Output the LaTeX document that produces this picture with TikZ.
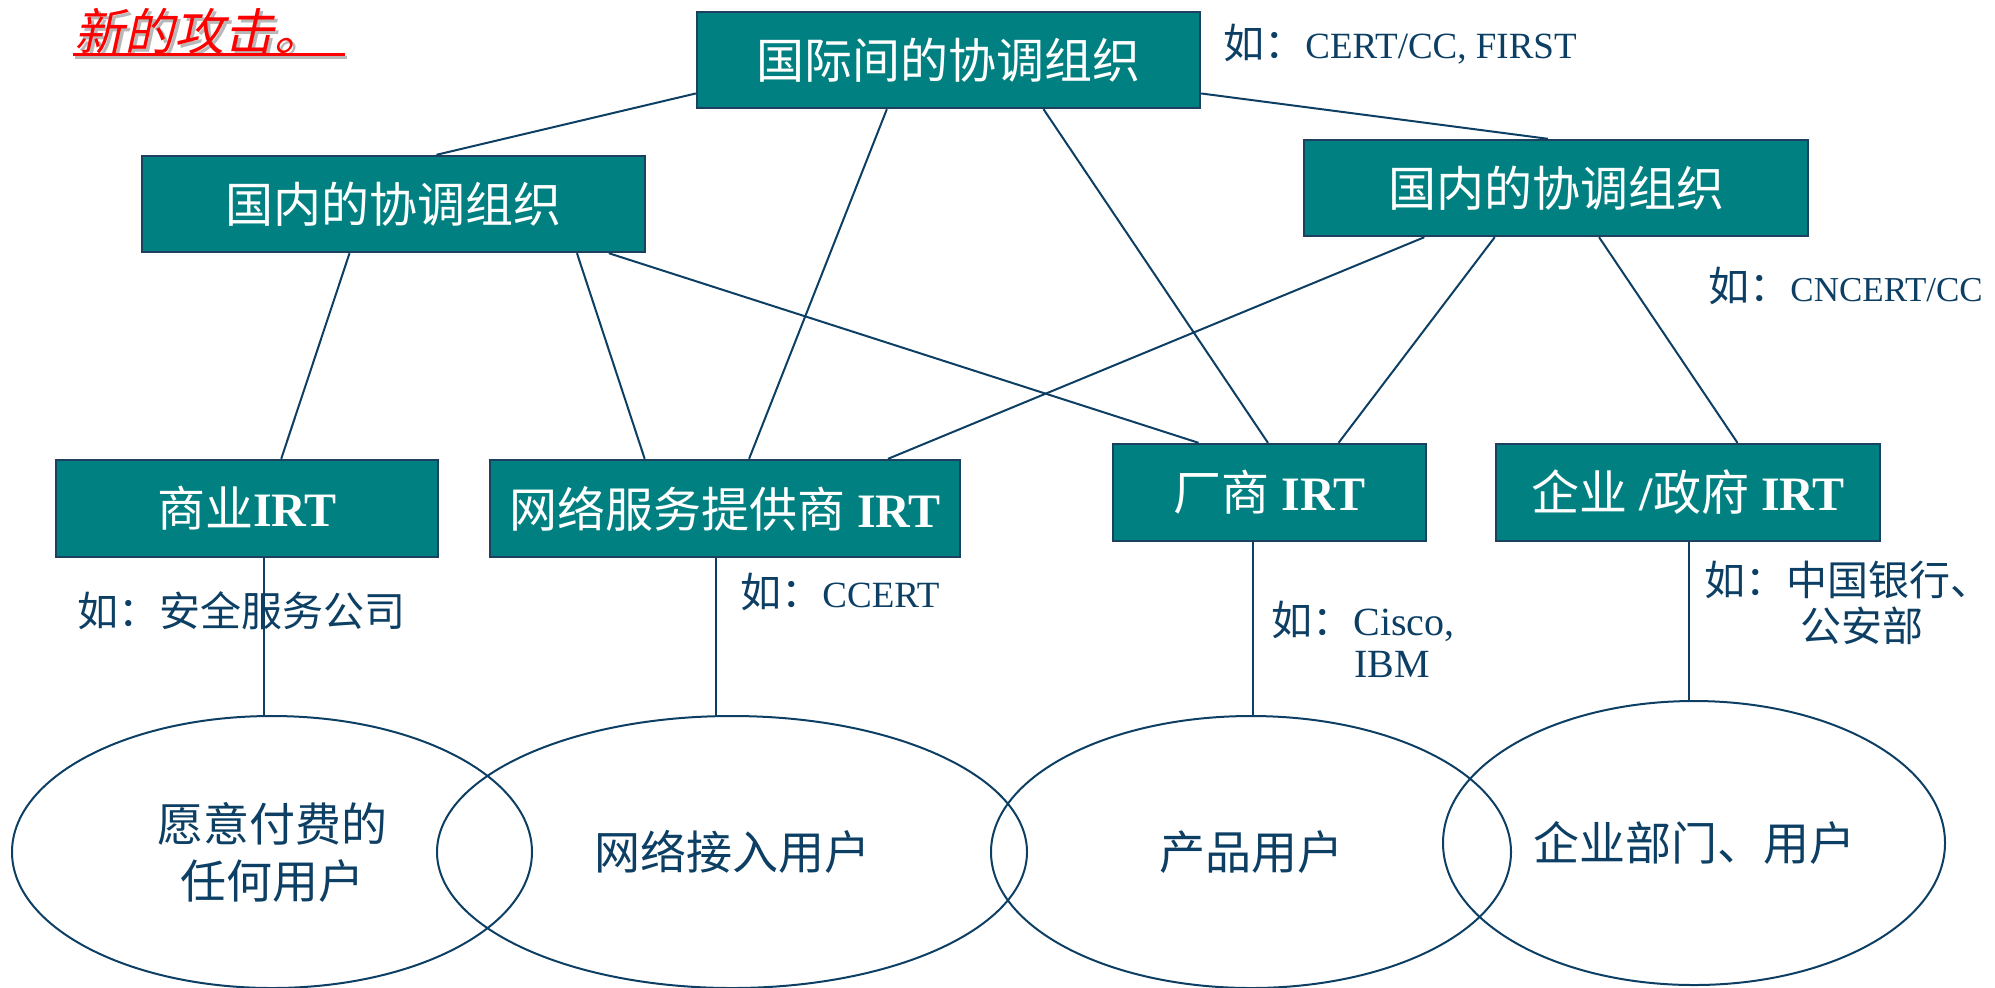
\documentclass[tikz,border=0pt]{standalone}
\usepackage{fontspec}
\setmainfont{Liberation Serif}
\newfontfamily\cjk{Noto Sans CJK SC}
\newfontfamily\cjkit[FakeSlant=0.22]{Noto Sans CJK SC}
\usetikzlibrary{shapes.geometric,calc}
\definecolor{tealfill}{HTML}{008080}
\definecolor{navy}{HTML}{0C3F63}
\definecolor{boxline}{HTML}{1B4060}
\definecolor{shadowgray}{HTML}{B8B8B8}
\newcommand\cj[1]{{\fontsize{20.5}{24}\selectfont\cjk #1}}
\begin{document}
\begin{tikzpicture}[x=0.5pt,y=-0.5pt,
  box/.style={draw=boxline, line width=1.2pt, fill=tealfill, text=white, inner sep=0pt, font=\fontsize{24}{28}\selectfont},
  lab/.style={text=navy, inner sep=0pt, anchor=west, font=\fontsize{18.5}{22}\selectfont},
  ell/.style={draw=navy, line width=1pt, ellipse, inner sep=0pt, text=navy, align=center, font=\fontsize{23}{28.5}\selectfont\cjk},
  conn/.style={draw=navy, line width=1pt},
  ttl/.style={inner sep=0pt, anchor=west, font=\fontsize{25}{29}\selectfont\cjkit}]
\useasboundingbox (0,0) rectangle (1995,987);

% title
\node[ttl, text=shadowgray] (tsh) at (77,34) {新的攻击。};
\node[ttl, text=red] (title) at (74,31) {新的攻击。};
\draw[shadowgray, line width=1.6pt] ([shift={(1,3)}]title.south west) -- ([shift={(22,3)}]title.south east);
\draw[red, line width=1.6pt] ([shift={(-1,0)}]title.south west) -- ([shift={(20,0)}]title.south east);

% boxes
\node[box, minimum width=251.5pt, minimum height=48pt] (intl) at (948.5,60) {\cjk 国际间的协调组织};
\node[box, minimum width=251.5pt, minimum height=48pt] (dl) at (393.5,204) {\cjk 国内的协调组织};
\node[box, minimum width=252pt, minimum height=48pt] (dr) at (1556,188) {\cjk 国内的协调组织};
\node[box, minimum width=191pt, minimum height=48.5pt] (biz) at (247,508.5) {{\cjk 商业}\textbf{IRT}};
\node[box, minimum width=235pt, minimum height=48.5pt] (isp) at (725,508.5) {{\cjk 网络服务提供商} \textbf{IRT}};
\node[box, minimum width=156.5pt, minimum height=48.5pt] (ven) at (1269.5,492.5) {{\cjk 厂商} \textbf{IRT}};
\node[box, minimum width=192pt, minimum height=48.5pt] (gov) at (1688,492.5) {{\cjk 企业} \textbf{/}{\cjk 政府} \textbf{IRT}};

% ellipses
\node[ell, minimum width=260pt, minimum height=136pt] (e1) at (272,852) {愿意付费的\\任何用户};
\node[ell, minimum width=295pt, minimum height=136pt] (e2) at (732,852) {网络接入用户};
\node[ell, minimum width=260pt, minimum height=136pt] (e3) at (1251,852) {产品用户};
\node[ell, minimum width=251pt, minimum height=142pt] (e4) at (1694,843) {企业部门、用户};

% labels
\node[lab] (l1) at (1223,44) {\cj{如：}CERT/CC, FIRST};
\node[lab, font=\fontsize{17.5}{21}\selectfont] (l2) at (1708,286) {\cj{如：}CNCERT/CC};
\node[lab] (l3) at (77,611) {\cj{如：安全服务公司}};
\node[lab] (l4) at (740,592) {\cj{如：}CCERT};
\node[lab, font=\fontsize{20}{24}\selectfont] (l5) at (1271,621) {\cj{如：}Cisco,};
\node[lab, font=\fontsize{20}{24}\selectfont] (l5b) at (1354,664) {IBM};
\node[lab] (l6) at (1704,580) {\cj{如：中国银行、}};
\node[lab] (l6b) at (1800,626) {\cj{公安部}};

% connectors between organisations
\draw[conn] ($(intl.north west)!0.84!(intl.south west)$) -- ($(dl.north west)!0.585!(dl.north east)$);
\draw[conn] ($(intl.south west)!0.378!(intl.south east)$) -- ($(isp.north west)!0.551!(isp.north east)$);
\draw[conn] ($(intl.south west)!0.688!(intl.south east)$) -- ($(ven.north west)!0.495!(ven.north east)$);
\draw[conn] ($(intl.north east)!0.84!(intl.south east)$) -- ($(dr.north west)!0.484!(dr.north east)$);
\draw[conn] ($(dl.south west)!0.413!(dl.south east)$) -- ($(biz.north west)!0.589!(biz.north east)$);
\draw[conn] ($(dl.south west)!0.863!(dl.south east)$) -- ($(isp.north west)!0.330!(isp.north east)$);
\draw[conn] ($(dl.south west)!0.926!(dl.south east)$) -- ($(ven.north west)!0.275!(ven.north east)$);
\draw[conn] ($(dr.south west)!0.240!(dr.south east)$) -- ($(isp.north west)!0.845!(isp.north east)$);
\draw[conn] ($(dr.south west)!0.379!(dr.south east)$) -- ($(ven.north west)!0.719!(ven.north east)$);
\draw[conn] ($(dr.south west)!0.585!(dr.south east)$) -- ($(gov.north west)!0.628!(gov.north east)$);

% connectors to user groups
\coordinate (b1) at ($(biz.south west)!0.545!(biz.south east)$);
\coordinate (b2) at ($(isp.south west)!0.481!(isp.south east)$);
\coordinate (b3) at ($(ven.south west)!0.447!(ven.south east)$);
\coordinate (b4) at ($(gov.south west)!0.503!(gov.south east)$);
\draw[conn] (b1) -- (b1 |- e1.north);
\draw[conn] (b2) -- (b2 |- e2.north);
\draw[conn] (b3) -- (b3 |- e3.north);
\draw[conn] (b4) -- (b4 |- e4.north);
\end{tikzpicture}
\end{document}
